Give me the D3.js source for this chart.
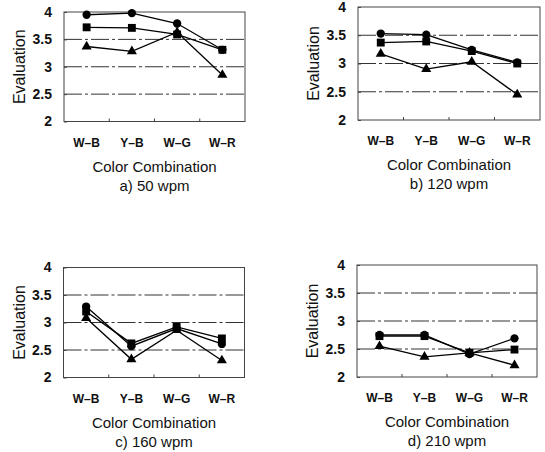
<!DOCTYPE html>
<html lang="en">
<head>
    <meta charset="UTF-8">
    <title>evaluation</title>
    <style>
        body { margin: 0; background: #fff; }
        svg text { font-family: "Liberation Sans", Arial, sans-serif; fill: #111; }
        .grid { stroke: #333; stroke-width: 1; stroke-dasharray: 18,3,3,3; }
        .frame { fill: none; stroke: #444; stroke-width: 1; }
        .series { fill: none; stroke: #000; stroke-width: 1.3; }
    </style>
</head>
<body>
    <div id="chart"></div>
    <script src="https://cdn.jsdelivr.net/npm/d3@7"></script>
    <script>

        var categories = ["W–B", "Y–B", "W–G", "W–R"];
        var panelTitles = ["a) 50 wpm", "b) 120 wpm", "c) 160 wpm", "d) 210 wpm"];
        var yTicks = [2, 2.5, 3, 3.5, 4];

        // one row per panel (a, b, c, d), values in category order
        var circleVals = [
            [3.95, 3.98, 3.79, 3.31],
            [3.53, 3.51, 3.24, 3.02],
            [3.29, 2.57, 2.89, 2.61],
            [2.75, 2.75, 2.41, 2.69]
        ];
        var squareVals = [
            [3.72, 3.71, 3.59, 3.31],
            [3.37, 3.39, 3.22, 3.00],
            [3.20, 2.62, 2.92, 2.71],
            [2.73, 2.73, 2.43, 2.49]
        ];
        var triangleVals = [
            [3.37, 3.28, 3.63, 2.85],
            [3.17, 2.90, 3.03, 2.45],
            [3.08, 2.33, 2.86, 2.31],
            [2.55, 2.36, 2.43, 2.21]
        ];

        // plot boxes of the four panels
        var boxes = [
            {x0: 64, x1: 245, top: 12, bottom: 121.5},
            {x0: 358, x1: 540, top: 7, bottom: 120},
            {x0: 63.5, x1: 244.5, top: 267.5, bottom: 377.5},
            {x0: 357, x1: 537, top: 265, bottom: 377}
        ];

        var series = [
            {vals: circleVals, symbol: d3.symbolCircle, size: 54},
            {vals: triangleVals, symbol: d3.symbolTriangle, size: 44},
            {vals: squareVals, symbol: d3.symbolSquare, size: 62}
        ];

        var svg = d3.select("#chart").append("svg")
            .attr("width", 545)
            .attr("height", 452);

        boxes.forEach(function(b, p) {
            var g = svg.append("g");

            var x = d3.scalePoint()
                .domain(categories)
                .range([b.x0, b.x1])
                .padding(0.5);

            var y = d3.scaleLinear()
                .domain([2, 4])
                .range([b.bottom, b.top]);

            // grid lines
            g.selectAll(".grid")
                .data(yTicks.filter(function(t) { return t > 2 && t < 4; }))
                .enter().append("line")
                .attr("class", "grid")
                .attr("x1", b.x0).attr("x2", b.x1)
                .attr("y1", function(d) { return y(d); })
                .attr("y2", function(d) { return y(d); });

            g.append("rect")
                .attr("class", "frame")
                .attr("x", b.x0).attr("y", b.top)
                .attr("width", b.x1 - b.x0)
                .attr("height", b.bottom - b.top);

            // y axis: short inner ticks, labels outside
            var yAxis = g.append("g")
                .attr("transform", "translate(" + b.x0 + ",0)")
                .call(d3.axisLeft(y).tickValues(yTicks).tickSize(-3).tickPadding(12)
                    .tickFormat(function(d) { return String(d); }));
            yAxis.select(".domain").remove();
            yAxis.selectAll("line").attr("stroke", "#444");
            yAxis.selectAll("text")
                .attr("font-size", "14px")
                .attr("font-weight", "bold")
                .attr("font-family", "Liberation Sans, Arial, sans-serif")
                .attr("fill", "#111");

            // small ticks between categories on the bottom edge
            var step = x.step();
            g.selectAll(".sep")
                .data(categories.slice(1))
                .enter().append("line")
                .attr("x1", function(d) { return x(d) - step / 2; })
                .attr("x2", function(d) { return x(d) - step / 2; })
                .attr("y1", b.bottom).attr("y2", b.bottom - 3)
                .attr("stroke", "#444");

            // category labels
            g.selectAll(".cat")
                .data(categories)
                .enter().append("text")
                .attr("x", function(d) { return x(d); })
                .attr("y", b.bottom + 25)
                .attr("text-anchor", "middle")
                .attr("font-size", "12px")
                .attr("font-weight", "bold")
                .text(function(d) { return d; });

            var cx = (b.x0 + b.x1) / 2;
            g.append("text")
                .attr("x", cx).attr("y", b.bottom + 50)
                .attr("text-anchor", "middle")
                .attr("font-size", "15px")
                .text("Color Combination");

            g.append("text")
                .attr("x", cx).attr("y", b.bottom + 69)
                .attr("text-anchor", "middle")
                .attr("font-size", "15px")
                .text(panelTitles[p]);

            g.append("text")
                .attr("transform", "translate(" + (b.x0 - 39) + "," + ((b.top + b.bottom) / 2) + ") rotate(-90)")
                .attr("text-anchor", "middle")
                .attr("font-size", "16px")
                .text("Evaluation");

            var line = d3.line()
                .x(function(d, i) { return x(categories[i]); })
                .y(function(d) { return y(d); });

            series.forEach(function(s) {
                var vals = s.vals[p];
                g.append("path")
                    .attr("class", "series")
                    .attr("d", line(vals));

                g.selectAll(null)
                    .data(vals)
                    .enter().append("path")
                    .attr("d", d3.symbol().type(s.symbol).size(s.size))
                    .attr("transform", function(d, i) {
                        return "translate(" + x(categories[i]) + "," + y(d) + ")";
                    })
                    .attr("fill", "#000");
            });
        });
    </script>
</body>
</html>
